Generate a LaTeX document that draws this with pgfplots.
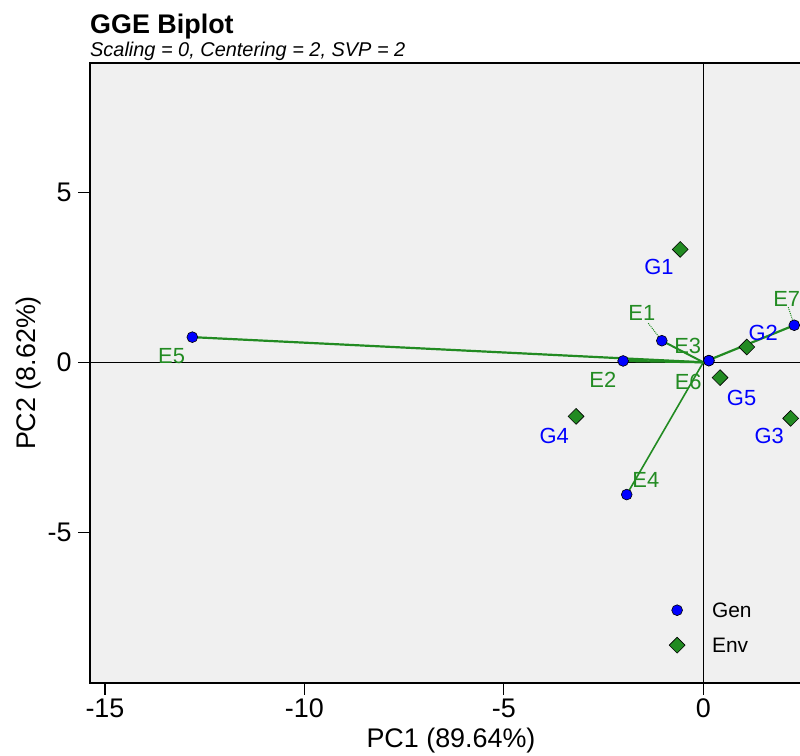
\documentclass[border=0pt]{standalone}
\usepackage{pgfplots}
\pgfplotsset{compat=1.18}
\usepackage{pgfplotstable}
\usepackage{fontspec}
\setmainfont{Liberation Sans}
\definecolor{fgreen}{RGB}{34,139,34}
\definecolor{bgray}{RGB}{240,240,240}

\pgfplotstableread{
name x y
E1 -1.04 0.635
E2 -2.01 0.04
E3 0.14 0.05
E4 -1.92 -3.89
E5 -12.81 0.74
E6 0.14 0.05
E7 2.28 1.09
}\envpts

\pgfplotstableread{
name x y
G1 -0.58 3.32
G2 1.09 0.45
G3 2.19 -1.65
G4 -3.19 -1.59
G5 0.42 -0.45
}\genpts

\pgfplotstableread{
name x y
E1 -1.54 1.44
E2 -2.52 -0.53
E3 -0.39 0.48
E4 -1.44 -3.46
E5 -13.33 0.19
E6 -0.38 -0.59
E7 2.09 1.85
}\envlabels

\pgfplotstableread{
name x y
G1 -1.11 2.79
G2 1.50 0.85
G3 1.65 -2.17
G4 -3.74 -2.16
G5 0.96 -1.06
}\genlabels

\begin{document}
\begin{tikzpicture}[x=1bp,y=1bp]
\clip (0,0) rectangle (800,756);
\fill[white] (0,0) rectangle (800,756);
\node[anchor=base west, font=\bfseries\fontsize{27}{30}\selectfont, inner sep=0] at (90,722) {GGE Biplot};
\node[anchor=base west, font=\itshape\fontsize{20}{24}\selectfont, inner sep=0] at (90,699) {Scaling = 0, Centering = 2, SVP = 2};
\begin{axis}[
  at={(90bp,73bp)}, anchor=south west,
  scale only axis, width=722bp, height=620bp,
  xmin=-15.375, xmax=2.725, ymin=-9.432, ymax=8.803,
  axis background/.style={fill=bgray},
  axis line style={line width=1.6bp},
  xtick={-15,-10,-5,0}, ytick={-5,0,5},
  xtick pos=left, ytick pos=left,
  tick align=outside, major tick length=12bp,
  tick style={black, line width=1.2bp},
  /pgf/number format/assume math mode=true,
  tick label style={font=\fontsize{27}{30}\selectfont},
  yticklabel style={xshift=-3bp},
  xlabel={PC1 (89.64\%)}, ylabel={PC2 (8.62\%)},
  label style={font=\fontsize{27}{30}\selectfont},
  xlabel style={at={(axis description cs:0.5,-0.0935)}, anchor=center},
  ylabel style={at={(axis description cs:-0.0845,0.5)}, anchor=center, rotate=0},
  legend style={at={(axis cs:-0.86,-7.05)}, anchor=north west, draw=none, fill=none,
    inner sep=0pt, row sep=16bp, column sep=27bp,
    font=\fontsize{21}{24}\selectfont,
    nodes={inner sep=0pt, text height=15bp, text depth=4bp},
    cells={anchor=base west}},
  legend image code/.code={\draw[#1] plot coordinates {(0bp,7bp)};},
]
\draw[black, line width=1.2bp] (axis cs:0,-9.432) -- (axis cs:0,8.803);
\draw[black, line width=1.2bp] (axis cs:-15.375,0) -- (axis cs:2.725,0);

% vectors from origin
\addplot[fgreen, line width=2.2bp, forget plot] coordinates {(0,0) (-12.81,0.74)};
\addplot[fgreen, line width=2.2bp, forget plot] coordinates {(0,0) (-2.01,0.04)};
\addplot[fgreen, line width=2bp, forget plot] coordinates {(0,0) (-1.04,0.635)};
\addplot[fgreen, line width=1.6bp, forget plot] coordinates {(0,0) (-1.92,-3.89)};
\addplot[fgreen, line width=2.2bp, forget plot] coordinates {(0,0) (2.28,1.09)};
\addplot[fgreen, line width=2bp, forget plot] coordinates {(0,0) (0.14,0.05)};
% label segments
\addplot[fgreen, line width=1bp, densely dotted, forget plot] coordinates {(-1.38,1.15) (-1.04,0.635)};
\addplot[fgreen, line width=1bp, densely dotted, forget plot] coordinates {(2.13,1.62) (2.28,1.09)};

% genotype markers (diamonds)
\addplot[only marks, mark=square*, mark size=5.6bp, mark options={rotate=45, fill=fgreen, draw=black, line width=0.6bp}, forget plot]
  table[x=x, y=y] {\genpts};
% environment markers (circles)
\addplot[only marks, mark=*, mark size=5.4bp, mark options={fill=blue, draw=black, line width=0.6bp}, forget plot]
  table[x=x, y=y] {\envpts};

% labels
\addplot[draw=none, mark=none, forget plot, nodes near coords, point meta=explicit symbolic,
  nodes near coords style={anchor=center, inner sep=0pt, text=fgreen, font=\fontsize{22}{24}\selectfont}]
  table[x=x, y=y, meta=name] {\envlabels};
\addplot[draw=none, mark=none, forget plot, nodes near coords, point meta=explicit symbolic,
  nodes near coords style={anchor=center, inner sep=0pt, text=blue, font=\fontsize{22}{24}\selectfont}]
  table[x=x, y=y, meta=name] {\genlabels};

\addlegendimage{only marks, mark=*, mark size=5.4bp, mark options={fill=blue, draw=black, line width=0.6bp}}
\addlegendentry{Gen}
\addlegendimage{only marks, mark=square*, mark size=5.6bp, mark options={rotate=45, fill=fgreen, draw=black, line width=0.6bp}}
\addlegendentry{Env}
\end{axis}
\end{tikzpicture}
\end{document}
